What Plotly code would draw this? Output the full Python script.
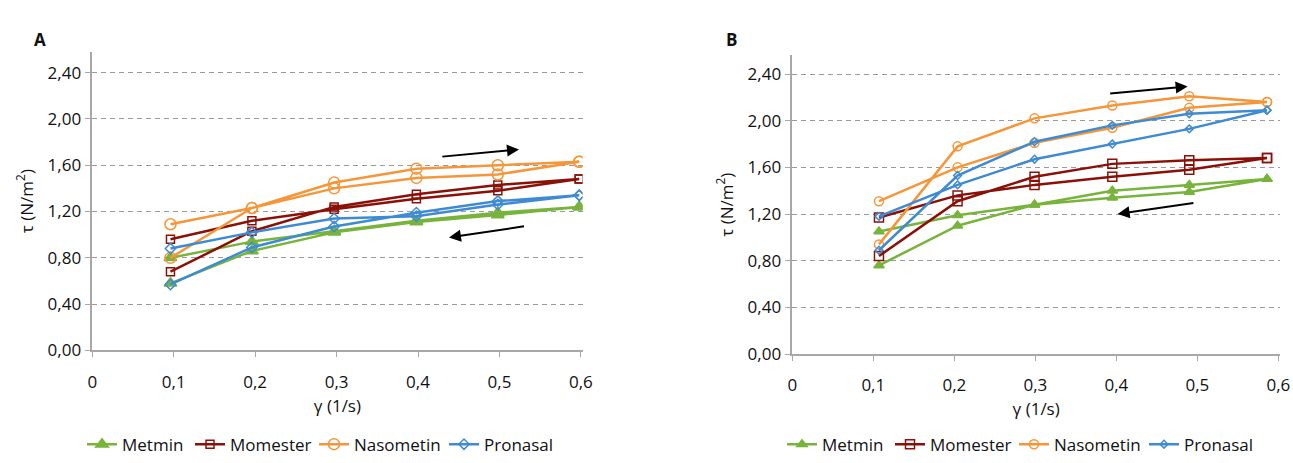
import plotly.graph_objects as go

# ---------------- data ----------------
series = ["Metmin", "Momester", "Nasometin", "Pronasal"]

# Panel A
shear_A = [0.096, 0.196, 0.297, 0.398, 0.498, 0.598]
metmin_A_up = [0.58, 0.86, 1.02, 1.11, 1.17, 1.24]
metmin_A_down = [1.24, 1.19, 1.12, 1.03, 0.94, 0.80]
momester_A_up = [0.68, 1.03, 1.24, 1.35, 1.43, 1.48]
momester_A_down = [1.48, 1.38, 1.31, 1.22, 1.12, 0.96]
nasometin_A_up = [0.80, 1.23, 1.45, 1.57, 1.60, 1.63]
nasometin_A_down = [1.63, 1.52, 1.49, 1.40, 1.23, 1.09]
pronasal_A_up = [0.57, 0.89, 1.07, 1.19, 1.29, 1.34]
pronasal_A_down = [1.34, 1.26, 1.16, 1.14, 1.02, 0.88]

# Panel B
shear_B = [0.107, 0.204, 0.299, 0.395, 0.490, 0.586]
metmin_B_up = [0.76, 1.10, 1.28, 1.40, 1.45, 1.50]
metmin_B_down = [1.50, 1.39, 1.34, 1.28, 1.19, 1.05]
momester_B_up = [0.84, 1.31, 1.52, 1.63, 1.66, 1.68]
momester_B_down = [1.68, 1.58, 1.52, 1.45, 1.36, 1.17]
nasometin_B_up = [0.94, 1.78, 2.02, 2.13, 2.21, 2.16]
nasometin_B_down = [2.16, 2.11, 1.94, 1.81, 1.60, 1.31]
pronasal_B_up = [0.89, 1.53, 1.82, 1.96, 2.06, 2.09]
pronasal_B_down = [2.09, 1.93, 1.80, 1.67, 1.45, 1.18]

y_ticks = [0.0, 0.4, 0.8, 1.2, 1.6, 2.0, 2.4]
y_ticklabels = ["0,00", "0,40", "0,80", "1,20", "1,60", "2,00", "2,40"]
x_ticks = [0, 0.1, 0.2, 0.3, 0.4, 0.5, 0.6]
x_ticklabels = ["0", "0,1", "0,2", "0,3", "0,4", "0,5", "0,6"]

# ---------------- styles ----------------
FONT = "Open Sans, Roboto, sans-serif"
FS = 17
colors = {"Metmin": "#78b43c", "Momester": "#8a1108", "Nasometin": "#f5963a", "Pronasal": "#3f8bd2"}
symbols = {"Metmin": "triangle-up", "Momester": "square-open", "Nasometin": "circle-open", "Pronasal": "diamond-open"}
sizes_A = {"Metmin": 11, "Momester": 8, "Nasometin": 11, "Pronasal": 8}
sizes_B = {"Metmin": 9, "Momester": 9, "Nasometin": 9, "Pronasal": 6}

data_A = {
    "Metmin": (metmin_A_up, metmin_A_down),
    "Momester": (momester_A_up, momester_A_down),
    "Nasometin": (nasometin_A_up, nasometin_A_down),
    "Pronasal": (pronasal_A_up, pronasal_A_down),
}
data_B = {
    "Metmin": (metmin_B_up, metmin_B_down),
    "Momester": (momester_B_up, momester_B_down),
    "Nasometin": (nasometin_B_up, nasometin_B_down),
    "Pronasal": (pronasal_B_up, pronasal_B_down),
}

W, H = 1293, 463


def px_x(p):
    return p / W


def px_y(p):
    return (H - p) / H


# legend item left positions (px) for panel A; panel B shifted by 700 px
legend_left_A = [82, 190, 314, 444]
PANEL_B_SHIFT = 700

fig = go.Figure()
legend_defs = {}

for i, name in enumerate(series):
    up, down = data_A[name]
    lg = "legend" if i == 0 else f"legend{i + 1}"
    legend_defs[lg] = legend_left_A[i]
    fig.add_trace(go.Scatter(
        x=list(shear_A) + list(reversed(shear_A)), y=list(up) + list(down),
        mode="lines+markers", name=name, legend=lg,
        line=dict(color=colors[name], width=2.5),
        marker=dict(symbol=symbols[name], size=sizes_A[name], color=colors[name],
                    line=dict(color=colors[name], width=1.5)),
        xaxis="x", yaxis="y",
    ))
for i, name in enumerate(series):
    up, down = data_B[name]
    lg = f"legend{i + 5}"
    legend_defs[lg] = legend_left_A[i] + PANEL_B_SHIFT
    fig.add_trace(go.Scatter(
        x=list(shear_B) + list(reversed(shear_B)), y=list(up) + list(down),
        mode="lines+markers", name=name, legend=lg,
        line=dict(color=colors[name], width=2.5),
        marker=dict(symbol=symbols[name], size=sizes_B[name], color=colors[name],
                    line=dict(color=colors[name], width=1.5)),
        xaxis="x2", yaxis="y2",
    ))

xaxis_common = dict(
    range=[0, 0.602], tickvals=x_ticks, ticktext=x_ticklabels, tickangle=0, automargin=False,
    showgrid=False, zeroline=False, showline=True, linecolor="#a8a8a8", linewidth=1.5,
    ticks="outside", ticklen=5, tickcolor="#a8a8a8", tickwidth=1.2, ticklabelstandoff=10,
    tickfont=dict(family=FONT, size=FS, color="#111"),
    title=dict(text="γ (1/s)", font=dict(family=FONT, size=FS, color="#111"), standoff=8),
)
yaxis_common = dict(
    tickvals=y_ticks, ticktext=y_ticklabels, automargin=False,
    showgrid=True, gridcolor="#9a9a9a", griddash="5px,4px", gridwidth=1.2,
    zeroline=False, showline=True, linecolor="#a8a8a8", linewidth=1.5,
    ticks="outside", ticklen=6, tickcolor="#a8a8a8", tickwidth=1.2,
    tickfont=dict(family=FONT, size=FS, color="#111"),
    title=dict(text="τ (N/m<sup>2</sup>)", font=dict(family=FONT, size=FS, color="#111"), standoff=10),
)

layout_legends = {}
for lg, left in legend_defs.items():
    layout_legends[lg] = dict(
        orientation="h", x=px_x(left), y=px_y(437), xanchor="left", yanchor="top",
        font=dict(family=FONT, size=FS, color="#111"), bgcolor="rgba(0,0,0,0)",
        itemwidth=30, tracegroupgap=0,
    )

fig.update_layout(
    width=W, height=H,
    margin=dict(l=0, r=0, t=0, b=0),
    paper_bgcolor="white", plot_bgcolor="white",
    font=dict(family=FONT, size=FS, color="#111"),
    xaxis=dict(domain=[px_x(92.3), px_x(582.5)], anchor="y", **xaxis_common),
    yaxis=dict(domain=[px_y(359), px_y(53)], anchor="x", range=[0, 2.58], **yaxis_common),
    xaxis2=dict(domain=[px_x(792.3), px_x(1280)], anchor="y2", **xaxis_common),
    yaxis2=dict(domain=[px_y(362.7), px_y(56.7)], anchor="x2", range=[0, 2.56], **yaxis_common),
    showlegend=True,
    **layout_legends,
)

# panel letters
fig.add_annotation(text="<b>A</b>", x=px_x(32), y=px_y(27), xref="paper", yref="paper",
                   showarrow=False, font=dict(family=FONT, size=17, color="#111"))
fig.add_annotation(text="<b>B</b>", x=px_x(731), y=px_y(27), xref="paper", yref="paper",
                   showarrow=False, font=dict(family=FONT, size=17, color="#111"))

# direction arrows (data coordinates)
arrows = [
    ("x", "y", 0.428, 1.673, 0.524, 1.736),
    ("x", "y", 0.532, 1.074, 0.438, 0.976),
    ("x2", "y2", 0.3905, 2.232, 0.488, 2.294),
    ("x2", "y2", 0.497, 1.296, 0.4016, 1.2015),
]
for xr, yr, x0, y0, x1, y1 in arrows:
    fig.add_annotation(x=x1, y=y1, ax=x0, ay=y0, xref=xr, yref=yr, axref=xr, ayref=yr,
                       showarrow=True, arrowhead=2, arrowsize=1.2, arrowwidth=2,
                       arrowcolor="black", text="")

fig.write_html("out.html")
